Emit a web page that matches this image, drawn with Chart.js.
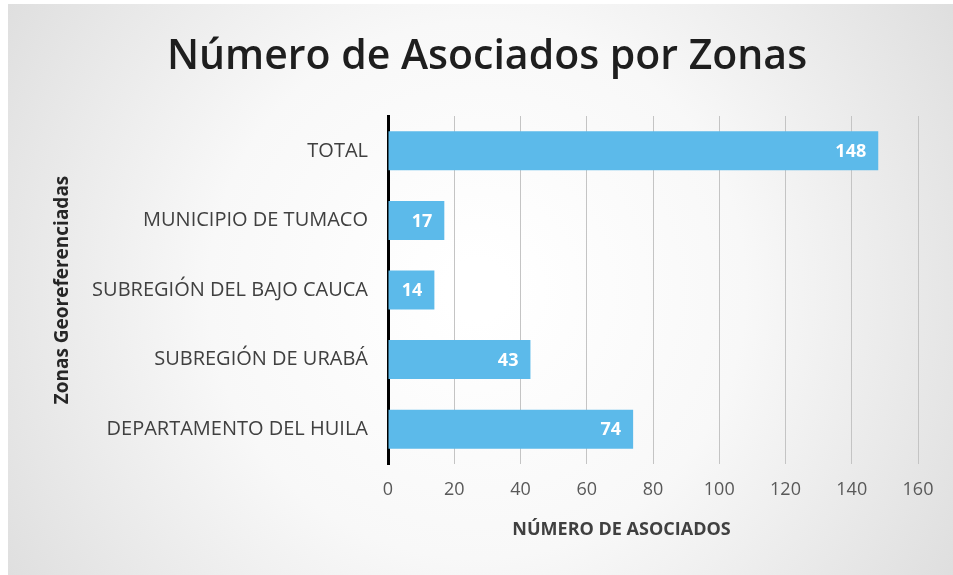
<!DOCTYPE html>
<html>
<head>
<meta charset="utf-8">
<script src="https://cdn.jsdelivr.net/npm/chart.js@4/dist/chart.umd.min.js"></script>
<style>
html,body{margin:0;padding:0;background:#fff;}
#wrap{width:953px;height:575px;position:relative;}
</style>
</head>
<body>
<div id="wrap"><canvas id="c" width="953" height="575"></canvas></div>
<script>
const categories = ["TOTAL", "MUNICIPIO DE TUMACO", "SUBREGIÓN DEL BAJO CAUCA", "SUBREGIÓN DE URABÁ", "DEPARTAMENTO DEL HUILA"];
const asociados = [148, 17, 14, 43, 74];
const xMin = 0, xMax = 160, xStep = 20;
const chartTitle = "Número de Asociados por Zonas";
const xTitle = "NÚMERO DE ASOCIADOS";
const yTitle = "Zonas Georeferenciadas";

const FONT = "'Open Sans', 'Liberation Sans', sans-serif";

const bgPlugin = {
  id: 'bg',
  beforeDraw(chart) {
    const ctx = chart.ctx;
    ctx.save();
    ctx.fillStyle = '#ffffff';
    ctx.fillRect(0, 0, chart.width, chart.height);
    const g = ctx.createRadialGradient(477, 290, 30, 477, 290, 560);
    g.addColorStop(0, '#ffffff');
    g.addColorStop(0.45, '#f8f8f8');
    g.addColorStop(1, '#dedede');
    ctx.fillStyle = g;
    ctx.fillRect(8, 4, chart.width - 8, chart.height - 4);
    ctx.restore();
  }
};

const labelPlugin = {
  id: 'barLabels',
  afterDatasetsDraw(chart) {
    const ctx = chart.ctx;
    const meta = chart.getDatasetMeta(0);
    ctx.save();
    ctx.fillStyle = '#ffffff';
    ctx.font = "bold 18px " + FONT;
    ctx.textAlign = 'right';
    ctx.textBaseline = 'middle';
    meta.data.forEach((bar, i) => {
      ctx.fillText(String(chart.data.datasets[0].data[i]), bar.x - 12, bar.y + 1);
    });
    ctx.restore();
  },
  afterDraw(chart) {
    const ctx = chart.ctx;
    const xs = chart.scales.x;
    ctx.save();
    ctx.fillStyle = '#404040';
    ctx.font = "bold 18px " + FONT;
    ctx.textAlign = 'center';
    ctx.textBaseline = 'middle';
    ctx.fillText(xTitle, xs.getPixelForValue(70.5), 530);
    ctx.fillStyle = '#1e1e1e';
    ctx.font = "600 41px " + FONT;
    ctx.fillText(chartTitle, 487, 57);
    ctx.restore();
  }
};

new Chart(document.getElementById('c'), {
  type: 'bar',
  data: {
    labels: categories,
    datasets: [{
      data: asociados,
      backgroundColor: '#5cbaea',
      borderWidth: 0,
      barPercentage: 0.56,
      categoryPercentage: 1
    }]
  },
  plugins: [bgPlugin, labelPlugin],
  options: {
    indexAxis: 'y',
    responsive: false,
    animation: false,
    devicePixelRatio: 1,
    layout: { padding: { left: 8, right: 35, top: 116, bottom: 0 } },
    plugins: {
      legend: { display: false },
      tooltip: { enabled: false },
      title: { display: false }
    },
    scales: {
      x: {
        type: 'linear',
        min: xMin, max: xMax,
        ticks: { stepSize: xStep, color: '#595959', font: { family: FONT, size: 18 }, padding: 15 },
        grid: { color: '#c4c4c4', lineWidth: 1, drawTicks: false },
        border: { display: false },
        title: { display: false },
        afterFit(scale) { scale.height = 111; }
      },
      y: {
        ticks: { color: '#404040', font: { family: FONT, size: 20 }, padding: 20 },
        grid: { display: false, drawTicks: false },
        border: { display: true, color: '#000000', width: 3 },
        title: {
          display: true, text: yTitle, color: '#262626',
          font: { family: FONT, size: 19, weight: 'bold', lineHeight: 1.2 },
          padding: { top: 43, bottom: 43 }
        },
        afterFit(scale) { scale.width = 380; }
      }
    }
  }
});
</script>
</body>
</html>
